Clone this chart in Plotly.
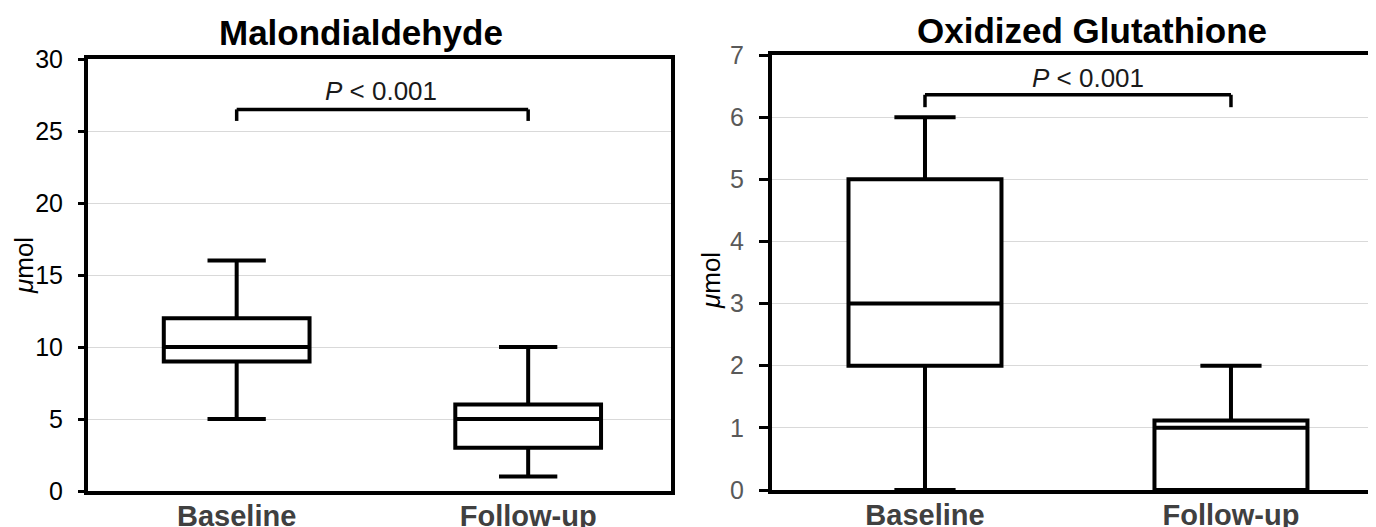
import plotly.graph_objects as go

# The page body has an 8px margin; figure is sized so it ends at the window edge.
OFF = 8
W, H = 1376 - OFF, 527 - OFF

categories = ["Baseline", "Follow-up"]

# Malondialdehyde (µmol)
mda_lower = [5, 1]
mda_q1 = [9, 3]
mda_median = [10, 5]
mda_q3 = [12, 6]
mda_upper = [16, 10]

# Oxidized Glutathione (µmol)
gssg_lower = [0, 0]
gssg_q1 = [2, 0]
gssg_median = [3, 1]
gssg_q3 = [5, 1.12]
gssg_upper = [6, 2]

mda_ticks = [0, 5, 10, 15, 20, 25, 30]
gssg_ticks = [0, 1, 2, 3, 4, 5, 6, 7]

p_label = "<i>P</i> < 0.001"

FONT = "Liberation Sans, Arial, sans-serif"


def px_x(x):
    return (x - OFF) / W


def px_y(y):
    return 1 - (y - OFF) / H


fig = go.Figure()

box_style = dict(
    fillcolor="white",
    line=dict(color="black", width=4),
    width=0.5,
    whiskerwidth=0.4,
    boxpoints=False,
    showlegend=False,
    hoverinfo="skip",
)

fig.add_trace(go.Box(
    x=categories, q1=mda_q1, median=mda_median, q3=mda_q3,
    lowerfence=mda_lower, upperfence=mda_upper,
    xaxis="x", yaxis="y", **box_style))

fig.add_trace(go.Box(
    x=categories, q1=gssg_q1, median=gssg_median, q3=gssg_q3,
    lowerfence=gssg_lower, upperfence=gssg_upper,
    xaxis="x2", yaxis="y2", **box_style))

xlab_font = dict(family=FONT, size=29, color="#404040", weight="bold")

fig.update_layout(
    width=W, height=H,
    margin=dict(l=0, r=0, t=0, b=0, autoexpand=False),
    paper_bgcolor="white", plot_bgcolor="white",
    showlegend=False,
    xaxis=dict(
        domain=[px_x(88), px_x(671)],
        type="category", categoryorder="array", categoryarray=categories,
        range=[-0.51, 1.49],
        showline=True, linecolor="black", linewidth=4, mirror=True,
        showgrid=False, ticks="", tickfont=xlab_font,
        ticklabelstandoff=-4,
        anchor="y", fixedrange=True,
    ),
    yaxis=dict(
        domain=[px_y(491), px_y(59)],
        range=[0, 30], tickvals=mda_ticks,
        showline=True, linecolor="black", linewidth=4, mirror=True,
        showgrid=True, gridcolor="#d9d9d9", gridwidth=1,
        zeroline=False,
        ticks="outside", ticklen=6, tickwidth=3, tickcolor="black",
        tickfont=dict(family=FONT, size=25, color="black"),
        ticklabelstandoff=10,
        anchor="x", fixedrange=True,
    ),
    xaxis2=dict(
        domain=[px_x(772), 1.0],
        type="category", categoryorder="array", categoryarray=categories,
        range=[-0.5, 1.474],
        showline=True, linecolor="black", linewidth=4, mirror=True,
        showgrid=False, ticks="", tickfont=xlab_font,
        ticklabelstandoff=-4,
        anchor="y2", fixedrange=True,
    ),
    yaxis2=dict(
        domain=[px_y(490), px_y(55)],
        range=[0, 7], tickvals=gssg_ticks,
        showline=True, linecolor="black", linewidth=4, mirror=False,
        showgrid=True, gridcolor="#d9d9d9", gridwidth=1,
        zeroline=False,
        ticks="outside", ticklen=9, tickwidth=3, tickcolor="black",
        tickfont=dict(family=FONT, size=25, color="#595959"),
        ticklabelstandoff=10,
        anchor="x2", fixedrange=True,
    ),
)

# significance brackets (category positions 0 and 1)
for xr, yr, y_top, y_end in [("x", "y", 26.5, 25.7), ("x2", "y2", 6.36, 6.16)]:
    fig.add_shape(type="line", xref=xr, yref=yr, x0=0, x1=1, y0=y_top, y1=y_top,
                  line=dict(color="black", width=3.5))
    fig.add_shape(type="line", xref=xr, yref=yr, x0=0, x1=0, y0=y_end, y1=y_top,
                  line=dict(color="black", width=3.5))
    fig.add_shape(type="line", xref=xr, yref=yr, x0=1, x1=1, y0=y_end, y1=y_top,
                  line=dict(color="black", width=3.5))

annots = [
    dict(text="<b>Malondialdehyde</b>", x=px_x(361), y=px_y(33),
         font=dict(family=FONT, size=35, color="black")),
    dict(text="<b>Oxidized Glutathione</b>", x=px_x(1092), y=px_y(31),
         font=dict(family=FONT, size=35, color="black")),
    dict(text=p_label, x=px_x(381), y=px_y(91),
         font=dict(family=FONT, size=26, color="#1a1a1a")),
    dict(text=p_label, x=px_x(1088), y=px_y(78),
         font=dict(family=FONT, size=26, color="#1a1a1a")),
    dict(text="<i>μ</i>mol", x=px_x(24), y=px_y(266), textangle=-90,
         font=dict(family=FONT, size=26, color="black")),
    dict(text="<i>μ</i>mol", x=px_x(711), y=px_y(280), textangle=-90,
         font=dict(family=FONT, size=26, color="black")),
]
for a in annots:
    fig.add_annotation(xref="paper", yref="paper", showarrow=False,
                       xanchor="center", yanchor="middle", **a)

fig.write_html("out.html")
